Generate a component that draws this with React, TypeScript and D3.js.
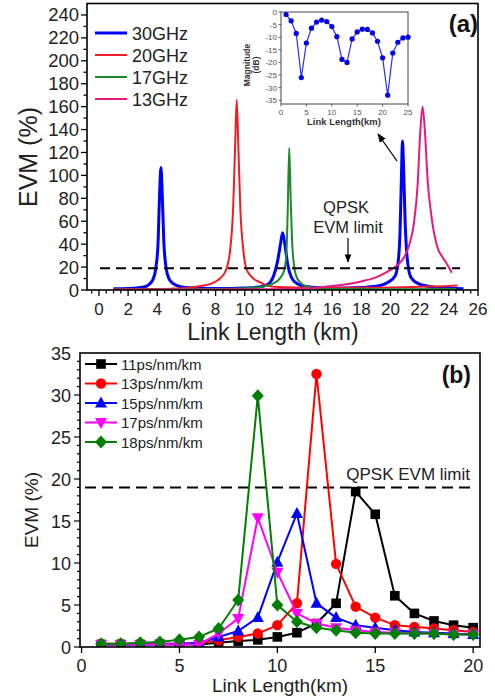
import React from "react";
import * as d3 from "d3";

// ---------- Panel (a) data ----------
const ghzLabels = ["30GHz", "20GHz", "17GHz", "13GHz"];
const evm30GHz: [number, number][] = [
  [1.0, 1.0], [2.0, 1.3], [3.0, 2.4], [3.4, 4.5], [3.7, 9], [3.9, 19], [4.05, 40], [4.15, 80], [4.25, 107],
  [4.35, 80], [4.45, 42], [4.6, 20], [4.8, 10], [5.1, 5.5], [5.5, 3.2], [6, 2.2], [7, 1.6], [8, 1.4], [9, 1.4],
  [10, 1.7], [11, 2.6], [11.6, 5], [12.0, 13], [12.25, 25], [12.45, 40], [12.6, 50], [12.75, 40], [12.95, 22],
  [13.2, 11], [13.6, 5.5], [14.2, 3], [15, 2], [16, 1.7], [17, 1.7], [18, 2.1], [19, 3.2], [19.8, 6.5], [20.3, 12],
  [20.5, 22], [20.65, 50], [20.75, 100], [20.82, 130], [20.9, 105], [21.0, 60], [21.15, 27], [21.4, 11],
  [22, 5], [23, 2.5], [24, 1.5], [25, 1.2],
];
const evm20GHz: [number, number][] = [
  [1, 0.5], [3, 0.8], [5, 1.2], [6, 1.8], [7, 3.5], [7.8, 6], [8.3, 10], [8.7, 17], [9.0, 35], [9.2, 70],
  [9.35, 130], [9.45, 166], [9.55, 130], [9.7, 70], [9.9, 35], [10.1, 19], [10.5, 11], [11, 7], [11.5, 4],
  [12, 2.8], [13, 2.3], [14, 2], [16, 1.8], [18, 2], [20, 2.2], [22, 2.8], [24, 3.5], [24.6, 4],
];
const evm17GHz: [number, number][] = [
  [1, 0.3], [5, 0.5], [8, 0.8], [10, 1.5], [11, 2.5], [11.6, 4], [12.0, 6], [12.4, 10], [12.7, 17],
  [12.85, 30], [12.95, 70], [13.05, 124], [13.15, 80], [13.25, 42], [13.4, 20], [13.6, 10], [14, 4.5],
  [14.5, 2.2], [15, 1.4], [17, 0.8], [20, 0.6], [24.5, 0.8],
];
const evm13GHz: [number, number][] = [
  [1, 0.3], [5, 0.4], [10, 0.6], [13, 0.9], [15, 2], [16, 3.5], [17, 5], [18, 7.5], [19, 11], [19.8, 16],
  [20.4, 21], [20.9, 28], [21.3, 40], [21.6, 58], [21.85, 90], [22.05, 140], [22.2, 160], [22.35, 140],
  [22.55, 95], [22.8, 65], [23.2, 38], [23.6, 28], [23.9, 22], [24.2, 15],
];
const ghzSeries = [evm30GHz, evm20GHz, evm17GHz, evm13GHz];
const topYTicks = d3.range(0, 241, 20);
const topXTicks = d3.range(0, 27, 2);
const qpskLimit = 19;

// Inset data
const insetKm = d3.range(1, 26);
const insetDb = [
  -1, -3.5, -8.5, -26, -12.3, -6.4, -4, -3.2, -3.8, -5.8, -9.8, -18.8, -20, -10.7, -7.9, -6.8, -6.9,
  -8.3, -11.6, -18.2, -33, -16.3, -12, -10.3, -10,
];
const insetYTicks = [0, -5, -10, -15, -20, -25, -30, -35];
const insetXTicks = [0, 5, 10, 15, 20, 25];

// ---------- Panel (b) data ----------
const linkKm = d3.range(1, 21);
const dispLabels = ["11ps/nm/km", "13ps/nm/km", "15ps/nm/km", "17ps/nm/km", "18ps/nm/km"];
const evm11 = [0.3, 0.3, 0.3, 0.3, 0.3, 0.3, 0.5, 0.7, 0.85, 1.2, 1.7, 2.8, 5.2, 18.5, 15.8, 6.1, 4.0, 3.1, 2.6, 2.3];
const evm13 = [0.4, 0.4, 0.4, 0.4, 0.4, 0.45, 0.8, 1.2, 1.6, 2.6, 5.2, 32.5, 9.9, 4.8, 3.5, 2.6, 2.4, 2.2, 2.0, 1.8];
const evm15 = [0.3, 0.3, 0.3, 0.35, 0.4, 0.5, 1.2, 1.9, 3.5, 10.1, 15.9, 5.2, 3.5, 2.6, 2.3, 2.0, 1.8, 1.7, 1.6, 1.5];
const evm17 = [0.3, 0.3, 0.3, 0.35, 0.3, 0.3, 1.6, 3.4, 15.4, 8.9, 4.0, 2.8, 2.3, 2.0, 1.8, 1.7, 1.6, 1.6, 1.5, 1.5];
const evm18 = [0.4, 0.4, 0.5, 0.6, 0.85, 1.2, 2.2, 5.6, 29.9, 5.0, 3.0, 2.3, 2.0, 1.7, 1.6, 1.6, 1.6, 1.6, 1.5, 1.5];
const dispSeries = [evm11, evm13, evm15, evm17, evm18];
const botYTicks = d3.range(0, 36, 5);
const botXTicks = d3.range(0, 21, 5);

// ---------- styles ----------
const FONT = "Arial, 'Liberation Sans', sans-serif";
const ghzColors = ["#0000ff", "#ee1c25", "#1c8a2a", "#e8197d"];
const ghzWidths = [3, 2, 2, 2];
const dispColors = ["#000000", "#ff0000", "#0000ff", "#ff00ff", "#008000"];
const dispMarkers = ["square", "circle", "triangle", "invtriangle", "diamond"];

function Marker({ kind, x, y, color }: { kind: string; x: number; y: number; color: string }) {
  if (kind === "square") return <rect x={x - 4.8} y={y - 4.8} width={9.6} height={9.6} fill={color} />;
  if (kind === "circle") return <circle cx={x} cy={y} r={5.2} fill={color} />;
  if (kind === "triangle")
    return <path d={`M${x},${y - 6.5}L${x + 6},${y + 4.5}L${x - 6},${y + 4.5}Z`} fill={color} />;
  if (kind === "invtriangle")
    return <path d={`M${x},${y + 6.5}L${x + 6},${y - 4.5}L${x - 6},${y - 4.5}Z`} fill={color} />;
  return <path d={`M${x},${y - 6.5}L${x + 6},${y}L${x},${y + 6.5}L${x - 6},${y}Z`} fill={color} />;
}

export default function App() {
  // Panel (a) scales
  const xA = d3.scaleLinear().domain([-0.82, 26]).range([87, 478]);
  const yA = d3.scaleLinear().domain([0, 250]).range([290, 3.5]);
  const lineA = d3
    .line<[number, number]>()
    .x((d) => xA(d[0]))
    .y((d) => yA(d[1]))
    .curve(d3.curveMonotoneX);

  // Inset scales
  const xI = d3.scaleLinear().domain([0, 25]).range([281, 408]);
  const yI = d3.scaleLinear().domain([-36.5, 0]).range([104, 12]);
  const lineI = d3
    .line<number>()
    .x((_, i) => xI(insetKm[i]))
    .y((d) => yI(d));

  // Panel (b) scales
  const xB = d3.scaleLinear().domain([-0.08, 20.35]).range([80, 480]);
  const yB = d3.scaleLinear().domain([0, 35]).range([647, 353]);
  const lineB = d3
    .line<number>()
    .x((_, i) => xB(linkKm[i]))
    .y((d) => yB(d));

  const topMinorX = d3.range(-0.5, 26.01, 0.5);
  const topMinorY = d3.range(0, 250, 10);
  const botMinorY = d3.range(0, 35, 1);

  return (
    <svg
      width={495}
      height={697}
      style={{ position: "absolute", left: 0, top: 0, background: "#fff" }}
      fontFamily={FONT}
    >
      <defs>
        <marker id="arrowHead" viewBox="0 0 10 10" refX="9" refY="5" markerWidth="7" markerHeight="7" orient="auto-start-reverse">
          <path d="M0,1L10,5L0,9Z" fill="#000" />
        </marker>
        <clipPath id="clipA">
          <rect x={87} y={3.5} width={391} height={286.5} />
        </clipPath>
        <clipPath id="clipB">
          <rect x={80} y={353} width={400} height={294} />
        </clipPath>
      </defs>

      {/* ================= Panel (a) ================= */}
      <g>
        {topMinorX.map((t) => {
          const major = Math.abs(t % 2) < 1e-9;
          return <line key={"tx" + t} x1={xA(t)} x2={xA(t)} y1={290} y2={290 + (major ? 6 : 3.5)} stroke="#000" strokeWidth={1.3} />;
        })}
        {topMinorY.map((t) => {
          const major = t % 20 === 0;
          return <line key={"ty" + t} x1={87} x2={87 - (major ? 6 : 3.5)} y1={yA(t)} y2={yA(t)} stroke="#000" strokeWidth={1.3} />;
        })}
        {topYTicks.map((t) => (
          <text key={"tyl" + t} x={79} y={yA(t) + 6.5} fontSize={18.5} textAnchor="end" fill="#222">
            {t}
          </text>
        ))}
        {topXTicks.map((t) => (
          <text key={"txl" + t} x={xA(t)} y={315} fontSize={17} textAnchor="middle" fill="#222">
            {t}
          </text>
        ))}
        <text x={273} y={340} fontSize={23} textAnchor="middle" fill="#222">
          Link Length (km)
        </text>
        <text transform="translate(37,157) rotate(-90)" fontSize={25} textAnchor="middle" fill="#222">
          EVM (%)
        </text>

        <g clipPath="url(#clipA)">
          {ghzSeries.map((s, i) => (
            <path key={"ga" + i} d={lineA(s) || ""} fill="none" stroke={ghzColors[i]} strokeWidth={ghzWidths[i]} strokeLinejoin="round" />
          ))}
        </g>

        <line x1={100} x2={460} y1={yA(qpskLimit)} y2={yA(qpskLimit)} stroke="#000" strokeWidth={2} strokeDasharray="10,6" />
        <text x={346} y={213} fontSize={16.5} textAnchor="middle" fill="#222">QPSK</text>
        <text x={348} y={233} fontSize={16.5} textAnchor="middle" fill="#222">EVM limit</text>
        <line x1={348} y1={238} x2={348} y2={262} stroke="#000" strokeWidth={1.2} markerEnd="url(#arrowHead)" />

        <rect x={87} y={3.5} width={391} height={286.5} fill="none" stroke="#000" strokeWidth={1.6} />

        {ghzLabels.map((l, i) => {
          const ly = [33, 55, 77, 99][i];
          return (
            <g key={"la" + i}>
              <line x1={95} x2={127} y1={ly} y2={ly} stroke={ghzColors[i]} strokeWidth={ghzWidths[i]} />
              <text x={132} y={ly + 6.5} fontSize={18} fill="#222">{l}</text>
            </g>
          );
        })}

        <text x={478} y={32} fontSize={24} fontWeight="bold" textAnchor="end" fill="#111">(a)</text>

        <line x1={397} y1={161} x2={378} y2={134} stroke="#000" strokeWidth={1.3} markerEnd="url(#arrowHead)" />

        {/* inset */}
        <rect x={281} y={12} width={127} height={92} fill="#fff" stroke="#444" strokeWidth={1} />
        {insetYTicks.map((t) => (
          <g key={"iy" + t}>
            <line x1={281} x2={278.5} y1={yI(t)} y2={yI(t)} stroke="#444" strokeWidth={0.8} />
            <text x={277} y={yI(t) + 3} fontSize={8} textAnchor="end" fill="#555">{t}</text>
          </g>
        ))}
        {insetXTicks.map((t) => (
          <g key={"ix" + t}>
            <line x1={xI(t)} x2={xI(t)} y1={104} y2={106.5} stroke="#444" strokeWidth={0.8} />
            <text x={xI(t)} y={114.5} fontSize={8} textAnchor="middle" fill="#555">{t}</text>
          </g>
        ))}
        <text x={344} y={125} fontSize={9.5} fontWeight="bold" textAnchor="middle" fill="#333">Link Length(km)</text>
        <text transform="translate(250,65) rotate(-90)" fontSize={8.5} fontWeight="bold" textAnchor="middle" fill="#333">Magnitude</text>
        <text transform="translate(259,65) rotate(-90)" fontSize={8.5} fontWeight="bold" textAnchor="middle" fill="#333">(dB)</text>
        <path d={lineI(insetDb) || ""} fill="none" stroke="#2b2bff" strokeWidth={1.2} />
        {insetDb.map((v, i) => (
          <circle key={"ip" + i} cx={xI(insetKm[i])} cy={yI(v)} r={2.6} fill="#0000ee" />
        ))}
      </g>

      {/* ================= Panel (b) ================= */}
      <g>
        {botMinorY.map((t) => {
          const major = t % 5 === 0;
          return <line key={"by" + t} x1={80} x2={80 - (major ? 6 : 3)} y1={yB(t)} y2={yB(t)} stroke="#000" strokeWidth={1.2} />;
        })}
        {botXTicks.map((t) => (
          <line key={"bx" + t} x1={xB(t)} x2={xB(t)} y1={647} y2={653} stroke="#000" strokeWidth={1.3} />
        ))}
        {botYTicks.map((t) => (
          <text key={"byl" + t} x={71} y={yB(t) + 6.5} fontSize={18} textAnchor="end" fill="#222">{t}</text>
        ))}
        {botXTicks.map((t) => (
          <text key={"bxl" + t} x={xB(t)} y={672} fontSize={18} textAnchor="middle" fill="#222">{t}</text>
        ))}
        <text x={280} y={692} fontSize={19} textAnchor="middle" fill="#222">Link Length(km)</text>
        <text transform="translate(38,510) rotate(-90)" fontSize={19} textAnchor="middle" fill="#222">EVM (%)</text>

        <line x1={85} x2={472} y1={yB(qpskLimit)} y2={yB(qpskLimit)} stroke="#000" strokeWidth={2} strokeDasharray="11,6" />
        <text x={470} y={480} fontSize={17} textAnchor="end" fill="#222">QPSK EVM limit</text>

        <g clipPath="url(#clipB)">
          {dispSeries.map((s, i) => (
            <g key={"bs" + i}>
              <path d={lineB(s) || ""} fill="none" stroke={dispColors[i]} strokeWidth={2} strokeLinejoin="round" />
              {s.map((v, j) => (
                <Marker key={j} kind={dispMarkers[i]} x={xB(linkKm[j])} y={yB(v)} color={dispColors[i]} />
              ))}
            </g>
          ))}
        </g>

        <rect x={80} y={353} width={400} height={294} fill="none" stroke="#000" strokeWidth={1.6} />

        {dispLabels.map((l, i) => {
          const ly = 364 + i * 19.5;
          return (
            <g key={"lb" + i}>
              <line x1={85} x2={117} y1={ly} y2={ly} stroke={dispColors[i]} strokeWidth={2} />
              <Marker kind={dispMarkers[i]} x={101} y={ly} color={dispColors[i]} />
              <text x={121} y={ly + 5.5} fontSize={15} fill="#222">{l}</text>
            </g>
          );
        })}

        <text x={471} y={383} fontSize={23} fontWeight="bold" textAnchor="end" fill="#111">(b)</text>
      </g>
    </svg>
  );
}
